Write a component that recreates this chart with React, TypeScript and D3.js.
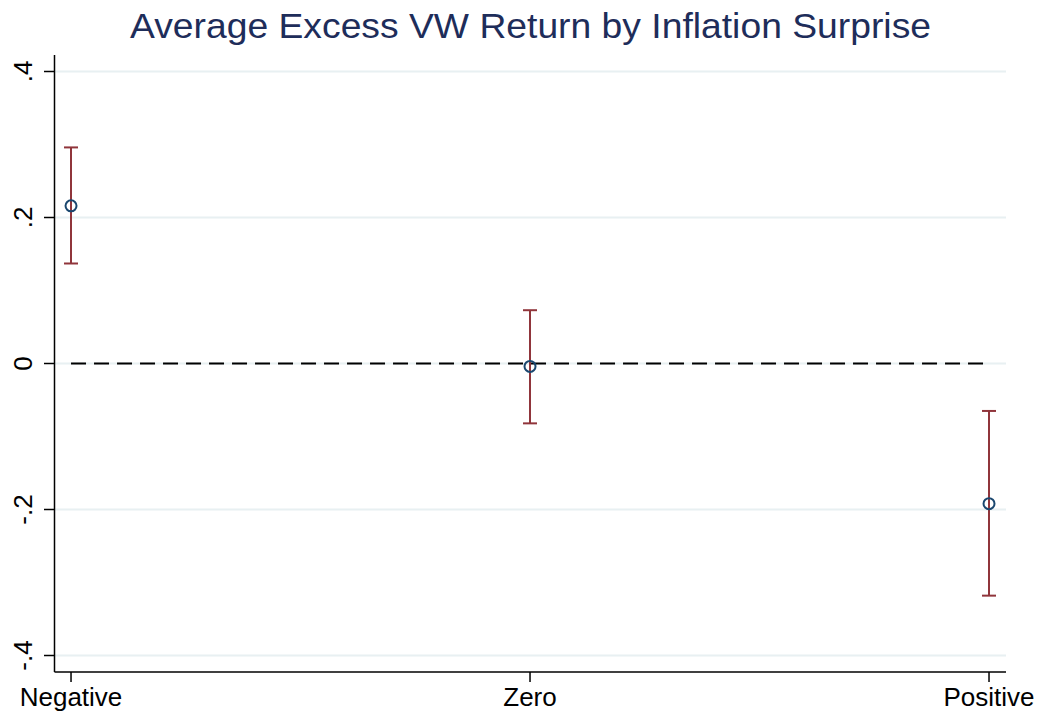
import React from "react";
import * as d3 from "d3";

const categories = ["Negative", "Zero", "Positive"];
const means = [0.216, -0.004, -0.192];
const ciLow = [0.137, -0.082, -0.318];
const ciHigh = [0.296, 0.073, -0.065];
const yTicks = [-0.4, -0.2, 0, 0.2, 0.4];
const yTickLabels = ["-.4", "-.2", "0", ".2", ".4"];
const title = "Average Excess VW Return by Inflation Surprise";

const W = 1042;
const H = 715;
const FONT = "'Liberation Sans', Arial, sans-serif";

export default function App() {
  const left = 54.5;
  const right = 1006;
  const top = 55;
  const bottom = 672;
  const x = d3.scaleLinear().domain([0.964, 3.037]).range([left, right]);
  const y = d3.scaleLinear().domain([-0.4226, 0.4226]).range([bottom, top]);
  const xi = (i: number) => x(i + 1);

  return (
    <svg width={W} height={H} style={{ position: "absolute", left: 0, top: 0, background: "#fff" }}>
      <rect x={0} y={0} width={W} height={H} fill="#fff" />
      <text
        x={130}
        y={38}
        textLength={801}
        lengthAdjust="spacingAndGlyphs"
        fontFamily={FONT}
        fontSize={34.5}
        fill="#1e2d5a"
      >
        {title}
      </text>
      {yTicks.map((t, i) => (
        <g key={i}>
          <line x1={left} x2={right} y1={y(t)} y2={y(t)} stroke="#e8f0f2" strokeWidth={2} />
          <line x1={44} x2={left} y1={y(t)} y2={y(t)} stroke="#000" strokeWidth={1.5} />
          <text
            transform={`translate(32,${y(t)}) rotate(-90)`}
            textAnchor="middle"
            fontFamily={FONT}
            fontSize={26}
            fill="#000"
          >
            {yTickLabels[i]}
          </text>
        </g>
      ))}
      <line x1={xi(0)} x2={xi(2)} y1={y(0)} y2={y(0)} stroke="#000" strokeWidth={2} strokeDasharray="15 8" />
      <line x1={left} x2={left} y1={top} y2={bottom} stroke="#000" strokeWidth={1.5} />
      <line x1={left} x2={right} y1={bottom} y2={bottom} stroke="#000" strokeWidth={1.5} />
      {categories.map((c, i) => (
        <g key={c}>
          <line x1={xi(i)} x2={xi(i)} y1={bottom} y2={bottom + 10} stroke="#000" strokeWidth={1.5} />
          <text x={xi(i)} y={706} textAnchor="middle" fontFamily={FONT} fontSize={26} fill="#000">
            {c}
          </text>
          <line x1={xi(i)} x2={xi(i)} y1={y(ciLow[i])} y2={y(ciHigh[i])} stroke="#90353b" strokeWidth={2} />
          <line x1={xi(i) - 7} x2={xi(i) + 7} y1={y(ciLow[i])} y2={y(ciLow[i])} stroke="#90353b" strokeWidth={2} />
          <line x1={xi(i) - 7} x2={xi(i) + 7} y1={y(ciHigh[i])} y2={y(ciHigh[i])} stroke="#90353b" strokeWidth={2} />
          <circle cx={xi(i)} cy={y(means[i])} r={5.5} fill="none" stroke="#1a476f" strokeWidth={2} />
        </g>
      ))}
    </svg>
  );
}
